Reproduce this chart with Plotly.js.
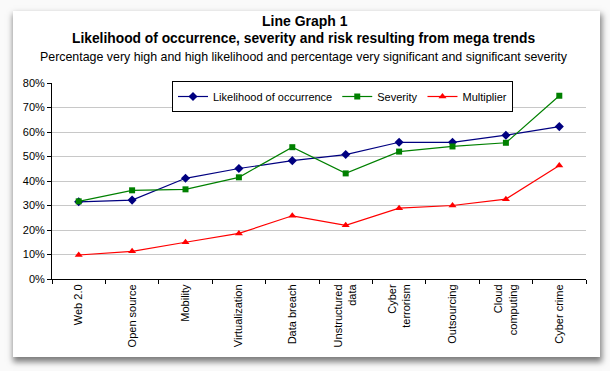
<!DOCTYPE html>
<html><head><meta charset="utf-8">
<script src="https://cdn.plot.ly/plotly-3.0.1.min.js"></script>
<style>
html,body{margin:0;padding:0;background:#fafafa;width:610px;height:371px;overflow:hidden;}
#card{position:absolute;left:13px;top:11px;width:587px;height:346px;background:#fff;box-shadow:1px 4px 6px 1px rgba(0,0,0,0.5);}
#chart{position:absolute;left:0;top:0;width:610px;height:371px;}
</style></head><body>
<div id="card"></div>
<div id="chart"></div>
<script>
const categories = ["Web 2.0","Open source","Mobility","Virtualization","Data breach","Unstructured<br>data","Cyber<br>terrorism","Outsourcing","Cloud<br>computing","Cyber crime"];
const likelihood = [31.5,32.2,41.1,45.1,48.3,50.8,55.8,55.8,58.7,62.2];
const severity   = [31.7,36.2,36.6,41.5,53.8,43.1,52.0,54.1,55.6,74.8];
const multiplier = [9.8,11.3,15.0,18.6,25.8,21.9,28.9,30.0,32.6,46.3];
const yTicks = [0,10,20,30,40,50,60,70,80];

const font = {family:"Liberation Sans, Arial, sans-serif", color:"#000"};
const traces = [
 {x:categories,y:likelihood,name:"Likelihood of occurrence",mode:"lines+markers",
  line:{color:"#000080",width:1.2},marker:{symbol:"diamond",size:7,color:"#000080"}},
 {x:categories,y:severity,name:"Severity",mode:"lines+markers",
  line:{color:"#008000",width:1.2},marker:{symbol:"square",size:6,color:"#008000"}},
 {x:categories,y:multiplier,name:"Multiplier",mode:"lines+markers",
  line:{color:"#ff0000",width:1.2},marker:{symbol:"triangle-up",size:7,color:"#ff0000"}}
];
const plotH = 371-83-92;
const plotW = 610-52-24;
function yp(pix){ return (371-92-pix)/plotH; }
function xp(pix){ return (pix-52)/plotW; }
const layout = {
 width:610,height:371,
 paper_bgcolor:"rgba(0,0,0,0)",plot_bgcolor:"rgba(0,0,0,0)",
 margin:{l:52,r:24,t:83,b:92},
 font:font,
 showlegend:true,
 legend:{orientation:"h",x:xp(172),y:yp(81),xanchor:"left",yanchor:"top",
   bordercolor:"#000",borderwidth:1,bgcolor:"#fff",font:{size:11,family:font.family},
   itemwidth:30,tracegroupgap:0},
 xaxis:{type:"category",tickson:"boundaries",ticks:"outside",ticklen:4,tickcolor:"#000",
   showline:true,linecolor:"#000",linewidth:1,showgrid:false,tickangle:-90,
   tickfont:{size:11,family:font.family},range:[-0.5,9.5]},
 yaxis:{range:[0,80],tickvals:yTicks,ticktext:yTicks.map(v=>v+"%"),ticks:"outside",ticklen:4,
   tickcolor:"#000",showline:true,linecolor:"#000",linewidth:1,
   gridcolor:"#c8c8c8",gridwidth:1,tickfont:{size:11,family:font.family},zeroline:false},
 annotations:[
  {text:"<b>Line Graph 1</b>",xref:"paper",yref:"paper",x:xp(305),y:yp(21),xanchor:"center",yanchor:"middle",
   showarrow:false,font:{size:14,family:font.family}},
  {text:"<b>Likelihood of occurrence, severity and risk resulting from mega trends</b>",xref:"paper",yref:"paper",x:xp(303),y:yp(39),
   xanchor:"center",yanchor:"middle",showarrow:false,font:{size:13.8,family:font.family}},
  {text:"Percentage very high and high likelihood and percentage very significant and significant severity",xref:"paper",yref:"paper",x:xp(304),y:yp(57),
   xanchor:"center",yanchor:"middle",showarrow:false,font:{size:12.4,family:font.family}}
 ]
};
Plotly.newPlot("chart",traces,layout,{displayModeBar:false,staticPlot:true});
</script>
</body></html>
